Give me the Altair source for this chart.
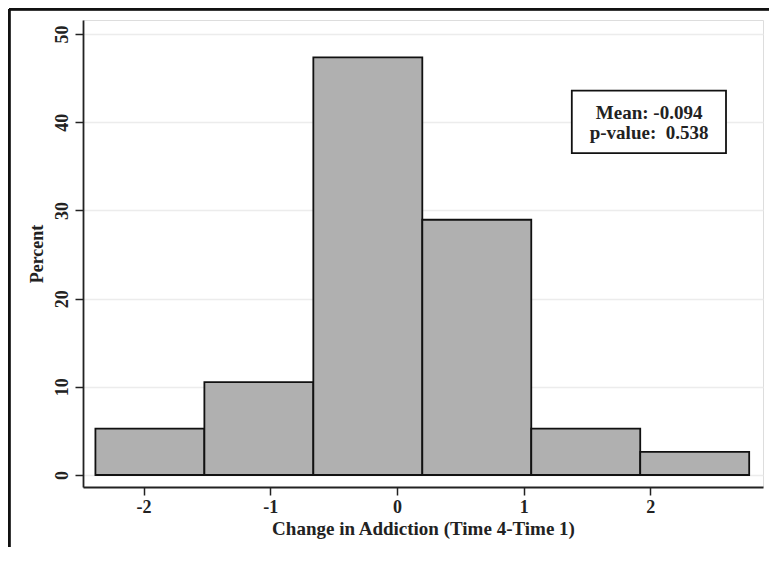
import altair as alt
import pandas as pd

bin_start = [-2.38, -1.52, -0.66, 0.20, 1.06, 1.92]
bin_end = [-1.52, -0.66, 0.20, 1.06, 1.92, 2.78]
percent = [5.26, 10.53, 47.37, 28.95, 5.26, 2.63]

x_ticks = [-2, -1, 0, 1, 2]
y_ticks = [0, 10, 20, 30, 40, 50]

note_lines = ["Mean: -0.094", "p-value:\u00a0 0.538"]
note_x = [1.99, 1.99]
note_y = [41.1, 38.75]

bars = pd.DataFrame({"x0": bin_start, "x1": bin_end, "pct": percent})
notes = pd.DataFrame({"x": note_x, "y": note_y, "t": note_lines})
box = pd.DataFrame({"x0": [1.38], "x1": [2.597], "y0": [36.5], "y1": [43.6]})

FONT = "Liberation Serif"
xs = alt.Scale(domain=[-2.478, 2.889], nice=False, zero=False)
ys = alt.Scale(domain=[-1.36, 51.6], nice=False, zero=False)

hist = alt.Chart(bars).mark_rect(fill="#b0b0b0", stroke="#111111", strokeWidth=1.8).encode(
    x=alt.X("x0:Q", scale=xs, axis=alt.Axis(
        values=x_ticks, labelExpr="'' + datum.value", title="Change in Addiction (Time 4-Time 1)", grid=False,
        domainColor="#222222", domainWidth=1.8, tickColor="#222222", tickWidth=1.5, tickSize=8,
        labelFont=FONT, labelFontSize=18, labelFontWeight="bold", labelColor="#222222", labelPadding=3,
        titleFont=FONT, titleFontSize=19, titleFontWeight="bold", titleColor="#222222",
        titleY=41, titleBaseline="middle")),
    x2="x1:Q",
    y=alt.Y("pct:Q", scale=ys, axis=alt.Axis(
        values=y_ticks, labelExpr="'' + datum.value", title="Percent", grid=True, gridColor="#ececec", gridWidth=1.5,
        domainColor="#222222", domainWidth=1.8, tickColor="#222222", tickWidth=1.5, tickSize=8,
        labelFont=FONT, labelFontSize=18, labelFontWeight="bold", labelColor="#222222",
        labelAngle=-90, labelAlign="center", labelBaseline="bottom", labelPadding=4,
        titleFont=FONT, titleFontSize=18, titleFontWeight="bold", titleColor="#222222",
        titleAngle=-90, titleX=-46, titleY=233.5, titleBaseline="middle", titleAlign="center")),
    y2=alt.datum(0),
)

box_mark = alt.Chart(box).mark_rect(fill="white", stroke="#111111", strokeWidth=1.8).encode(
    x=alt.X("x0:Q", scale=xs), x2="x1:Q", y=alt.Y("y0:Q", scale=ys), y2="y1:Q")

note_text = alt.Chart(notes).mark_text(font=FONT, fontSize=19, fontWeight="bold", color="#222222",
                                       align="center", baseline="middle").encode(
    x=alt.X("x:Q", scale=xs), y=alt.Y("y:Q", scale=ys), text="t:N")

frame_top = alt.Chart(bars).mark_rule(color="#111111", strokeWidth=2.5).encode(
    x=alt.value(-74), x2=alt.value(700), y=alt.value(-11))
frame_left = alt.Chart(bars).mark_rule(color="#111111", strokeWidth=2.5).encode(
    x=alt.value(-74), y=alt.value(-11), y2=alt.value(550))

chart = alt.layer(hist, box_mark, note_text, frame_top, frame_left).properties(
    width=680, height=467,
    autosize=alt.AutoSizeParams(type="none"),
    padding={"left": 75, "top": 12, "right": 6, "bottom": 60},
).configure_view(stroke=None).configure(background="white")

chart.save("out.html", embed_options={"renderer": "svg", "actions": False})
